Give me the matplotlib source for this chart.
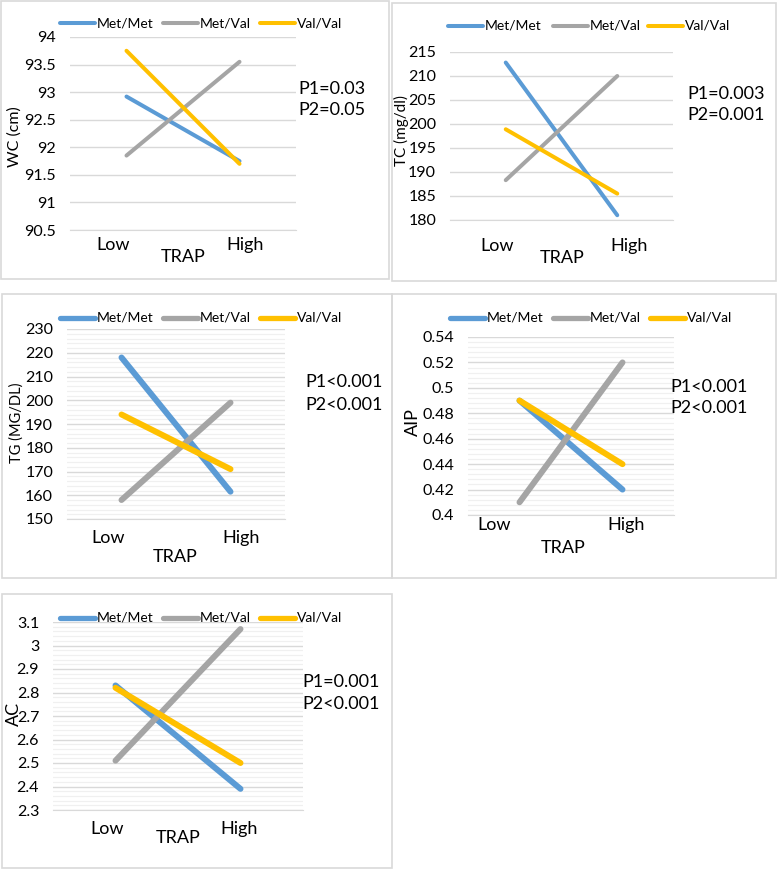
import matplotlib
matplotlib.use('Agg')
import matplotlib.pyplot as plt
from matplotlib.lines import Line2D
from matplotlib.patches import Rectangle
from matplotlib.ticker import AutoMinorLocator, FixedLocator

plt.rcParams.update({'font.family': ['Lato', 'DejaVu Sans'], 'font.size': 10})

W, H = 782, 876

# data
categories = ['Low', 'High']
groups = ['Met/Met', 'Met/Val', 'Val/Val']
colors = ['#5B9BD5', '#A5A5A5', '#FFC000']

wc_values = [[92.92, 91.75], [91.85, 93.55], [93.75, 91.70]]
tc_values = [[212.8, 181.0], [188.3, 210.0], [198.9, 185.5]]
tg_values = [[218.0, 161.5], [158.0, 199.0], [194.0, 171.0]]
aip_values = [[0.49, 0.42], [0.41, 0.52], [0.49, 0.44]]
ac_values = [[2.83, 2.39], [2.51, 3.07], [2.82, 2.50]]

ylabels = ['WC (cm)', 'TC (mg/dl)', 'TG (MG/DL)', 'AIP', 'AC']
p_texts = [['P1=0.03', 'P2=0.05'], ['P1=0.003', 'P2=0.001'], ['P1<0.001', 'P2<0.001'],
           ['P1<0.001', 'P2<0.001'], ['P1=0.001', 'P2<0.001']]
yticks = [[90.5, 91, 91.5, 92, 92.5, 93, 93.5, 94],
          [180, 185, 190, 195, 200, 205, 210, 215],
          [150, 160, 170, 180, 190, 200, 210, 220, 230],
          [0.4, 0.42, 0.44, 0.46, 0.48, 0.5, 0.52, 0.54],
          [2.3, 2.4, 2.5, 2.6, 2.7, 2.8, 2.9, 3.0, 3.1]]
values = [wc_values, tc_values, tg_values, aip_values, ac_values]

# layout in pixels: box, plot area, legend, texts
layout = [
    dict(box=(1, 1, 389, 279), px=(70, 296), py=(37, 230), leg_y=23, leg_x=[60, 163, 260],
         p=(298, 89, 110), ylab=(15, 137, 11.5), low=(113, 245), high=(245, 245), trap=(183, 257),
         lw=2.9, minor=False),
    dict(box=(392, 3, 776, 281), px=(450, 673), py=(52, 220), leg_y=26, leg_x=[448, 553, 648],
         p=(687, 94, 115), ylab=(401, 130, 11), low=(497, 246), high=(629, 246), trap=(562, 258),
         lw=2.9, minor=False),
    dict(box=(2, 294, 392, 578), px=(67, 285), py=(329, 519), leg_y=318, leg_x=[60, 163, 260],
         p=(305, 382, 405), ylab=(17, 423, 10.5), low=(108, 538), high=(241, 538), trap=(175, 557),
         lw=4.3, minor=True),
    dict(box=(392, 294, 776, 578), px=(468, 674), py=(337, 515), leg_y=318, leg_x=[450, 553, 650],
         p=(670, 387, 408), ylab=(413, 422, 13), low=(494, 525), high=(626, 525), trap=(563, 548),
         lw=4.3, minor=True),
    dict(box=(2, 594, 392, 868), px=(53, 303), py=(622, 810), leg_y=618, leg_x=[60, 163, 260],
         p=(302, 682, 704), ylab=(14, 714, 13), low=(107, 829), high=(239, 829), trap=(178, 838),
         lw=4.3, minor=True),
]


def fx(x):
    return x / W


def fy(y):
    return 1 - y / H


fig = plt.figure(figsize=(W / 100, H / 100), dpi=100)

for i, lay in enumerate(layout):
    x0, y0, x1, y1 = lay['box']
    fig.add_artist(Rectangle((fx(x0), fy(y1)), fx(x1 - x0), (y1 - y0) / H, fill=False,
                             edgecolor='#d9d9d9', lw=1.2, transform=fig.transFigure))
    ax = fig.add_axes([fx(lay['px'][0]), fy(lay['py'][1]), fx(lay['px'][1] - lay['px'][0]),
                       (lay['py'][1] - lay['py'][0]) / H])
    for g in range(3):
        ax.plot([0, 1], values[i][g], color=colors[g], lw=lay['lw'], solid_capstyle='round',
                clip_on=False, zorder=3)
    ax.set_xlim(-0.5, 1.5)
    ax.set_ylim(yticks[i][0], yticks[i][-1])
    ax.yaxis.set_major_locator(FixedLocator(yticks[i]))
    ax.set_yticklabels([f'{v:g}' for v in yticks[i]])
    ax.set_xticks([])
    if lay['minor']:
        ax.yaxis.set_minor_locator(AutoMinorLocator(5))
        ax.grid(axis='y', which='minor', color='#f0f0f0', lw=0.9)
    ax.grid(axis='y', which='major', color='#d9d9d9', lw=1)
    ax.set_axisbelow(True)
    ax.tick_params(axis='y', which='both', length=0, pad=10, labelsize=11.5)
    for s in ['top', 'left', 'right']:
        ax.spines[s].set_visible(False)
    ax.spines['bottom'].set_color('#d9d9d9')
    ax.patch.set_alpha(0)

    # legend
    for g in range(3):
        lx = lay['leg_x'][g]
        fig.add_artist(Line2D([fx(lx), fx(lx + 35)], [fy(lay['leg_y'])] * 2, color=colors[g],
                              lw=lay['lw'] if lay['lw'] < 4 else 3.8, solid_capstyle='round',
                              transform=fig.transFigure))
        fig.text(fx(lx + 37), fy(lay['leg_y']), groups[g], fontsize=10, va='center', ha='left')

    px_, py1, py2 = lay['p']
    fig.text(fx(px_), fy(py1), p_texts[i][0], fontsize=13, va='center', ha='left')
    fig.text(fx(px_), fy(py2), p_texts[i][1], fontsize=13, va='center', ha='left')

    lx, ly, ls = lay['ylab']
    fig.text(fx(lx), fy(ly), ylabels[i], fontsize=ls, rotation=90, va='center', ha='center')
    fig.text(fx(lay['low'][0]), fy(lay['low'][1]), categories[0], fontsize=13, ha='center', va='center')
    fig.text(fx(lay['high'][0]), fy(lay['high'][1]), categories[1], fontsize=13, ha='center', va='center')
    fig.text(fx(lay['trap'][0]), fy(lay['trap'][1]), 'TRAP', fontsize=13, ha='center', va='center')

fig.savefig('out.png', dpi=100)
